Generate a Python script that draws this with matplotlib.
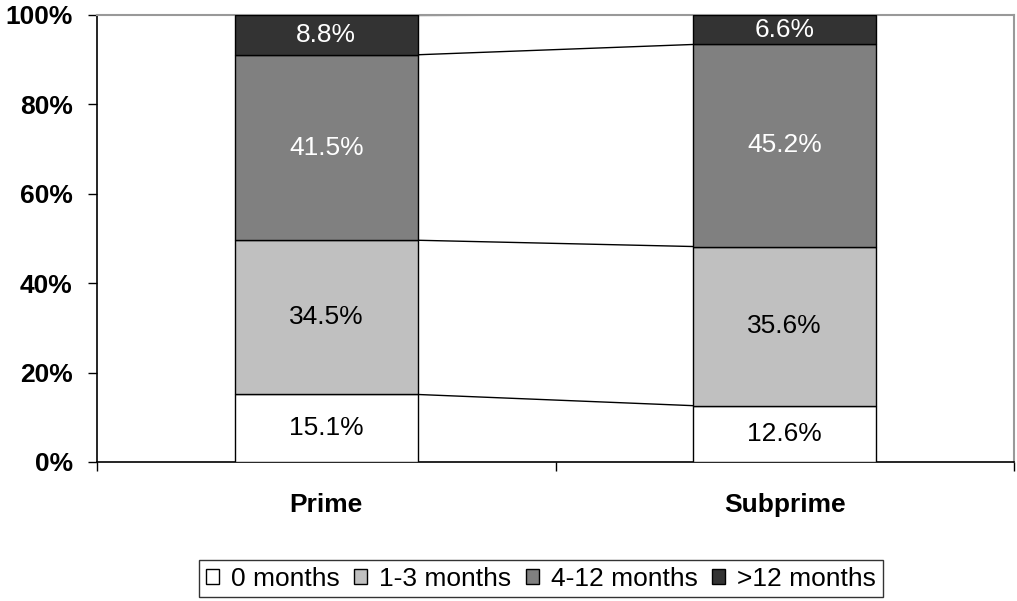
import numpy as np
import matplotlib.pyplot as plt

plt.rcParams['font.family'] = ['Liberation Sans', 'DejaVu Sans']

categories = ["Prime", "Subprime"]
series_names = ["0 months", "1-3 months", "4-12 months", ">12 months"]
prime = [15.1, 34.5, 41.5, 8.8]
subprime = [12.6, 35.6, 45.2, 6.6]
colors = ["#ffffff", "#c0c0c0", "#808080", "#333333"]
text_colors = ["black", "black", "white", "white"]

values = np.array([prime, subprime])  # rows = categories
x = np.arange(len(categories))
width = 0.4
fs = 19

fig = plt.figure(figsize=(10.17, 6.01), dpi=100)
ax = fig.add_axes([0.0954, 0.2313, 0.9017, 0.7438])

bottoms = np.zeros(len(categories))
handles = []
for i, name in enumerate(series_names):
    vals = values[:, i]
    bars = ax.bar(x, vals, width, bottom=bottoms, color=colors[i],
                  edgecolor="black", linewidth=1, label=name, zorder=3)
    handles.append(bars)
    for xi, v, b in zip(x, vals, bottoms):
        ax.text(xi, b + v / 2, f"{v:.1f}%", ha="center", va="center",
                fontsize=fs, color=text_colors[i], zorder=4)
    bottoms = bottoms + vals
    # series lines between the bars
    ax.plot([x[0] + width / 2, x[1] - width / 2], [bottoms[0], bottoms[1]],
            color="black", linewidth=1, zorder=2)

ax.set_xlim(-0.5, 1.5)
ax.set_ylim(0, 100)
ax.set_yticks([0, 20, 40, 60, 80, 100])
ax.set_yticklabels([f"{t}%" for t in [0, 20, 40, 60, 80, 100]],
                   fontsize=fs, fontweight="bold")
ax.tick_params(axis="y", direction="out", length=6.5, width=1, pad=11)

ax.set_xticks(x)
ax.set_xticklabels(categories, fontsize=fs, fontweight="bold")
ax.tick_params(axis="x", which="major", length=0, pad=22)
ax.set_xticks([-0.5, 0.5, 1.5], minor=True)
ax.tick_params(axis="x", which="minor", direction="out", length=6.5, width=1)

for side in ["top", "right"]:
    ax.spines[side].set_color("#999999")
    ax.spines[side].set_linewidth(1.5)
for side in ["left", "bottom"]:
    ax.spines[side].set_color("black")
    ax.spines[side].set_linewidth(1.2)

leg = fig.legend(handles=handles, labels=series_names, loc="center",
                 bbox_to_anchor=(541 / 1017, 1 - 578.5 / 601), ncol=4,
                 fontsize=fs, frameon=True, fancybox=False, edgecolor="black",
                 handlelength=0.5, handleheight=0.5, handletextpad=0.45,
                 columnspacing=0.55, borderpad=0.25)
leg.get_frame().set_linewidth(1)

fig.savefig("out.png", dpi=100)
